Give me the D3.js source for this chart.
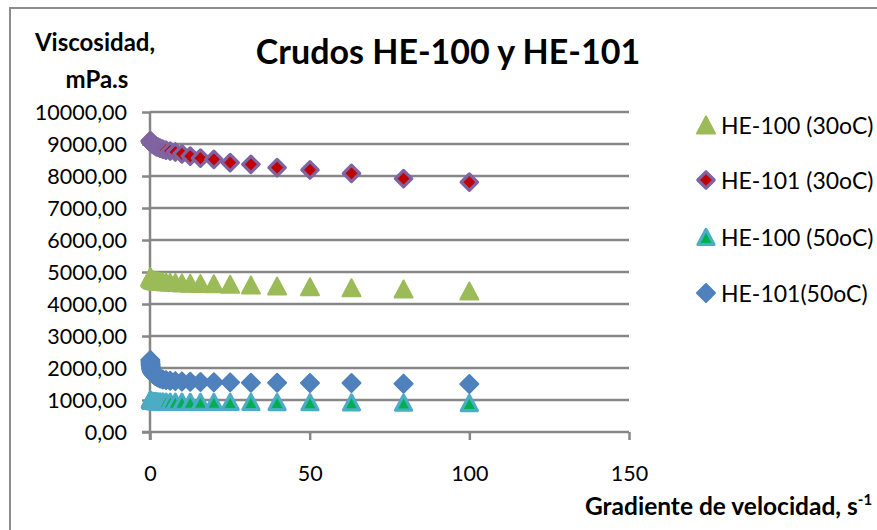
<!DOCTYPE html>
<html>
<head>
<meta charset="utf-8">
<script src="https://cdn.jsdelivr.net/npm/d3@7"></script>
<style>
  html, body { margin: 0; padding: 0; background: #ffffff; }
  svg { display: block; }
  text { font-family: Lato, "Noto Sans", sans-serif; fill: #000; }
</style>
</head>
<body>
<svg id="chart" width="877" height="530"></svg>
<script>
// Shear rate (s^-1), logarithmic sweep
const gradiente = [0.10, 0.13, 0.16, 0.20, 0.25, 0.32, 0.40, 0.50, 0.63, 0.79,
  1.00, 1.26, 1.58, 2.00, 2.51, 3.16, 3.98, 5.01, 6.31, 7.94,
  10.0, 12.6, 15.8, 20.0, 25.1, 31.6, 39.8, 50.1, 63.1, 79.4, 100];

// Viscosity (mPa.s) per crude and temperature
const he100_30 = [4850, 4840, 4830, 4820, 4810, 4800, 4790, 4780, 4770, 4760,
  4750, 4740, 4730, 4720, 4715, 4710, 4700, 4690, 4680, 4670,
  4660, 4650, 4640, 4630, 4615, 4594, 4562, 4540, 4510, 4469, 4406];
const he101_30 = [9100, 9090, 9080, 9070, 9060, 9050, 9040, 9030, 9020, 9000,
  8990, 8970, 8950, 8920, 8900, 8870, 8840, 8810, 8780, 8750,
  8690, 8620, 8560, 8520, 8420, 8365, 8260, 8190, 8080, 7920, 7810];
const he100_50 = [1010, 1005, 1000, 995, 990, 985, 980, 975, 972, 970,
  968, 965, 962, 960, 958, 955, 952, 950, 948, 946,
  944, 942, 940, 940, 938, 937, 935, 930, 925, 915, 905];
const he101_50 = [2250, 2200, 2150, 2100, 2050, 2000, 1960, 1920, 1880, 1850,
  1820, 1790, 1760, 1730, 1700, 1670, 1640, 1620, 1600, 1590,
  1580, 1570, 1560, 1555, 1550, 1540, 1540, 1530, 1530, 1510, 1500];

const seriesNames = ["HE-100 (30oC)", "HE-101 (30oC)", "HE-100 (50oC)", "HE-101(50oC)"];
const xTicks = [0, 50, 100, 150];
const yTicks = [0, 1000, 2000, 3000, 4000, 5000, 6000, 7000, 8000, 9000, 10000];

const svg = d3.select("#chart");

// Outer chart frame
svg.append("rect")
  .attr("x", 10).attr("y", 8).attr("width", 900).attr("height", 600)
  .attr("fill", "none").attr("stroke", "#8c8c8c").attr("stroke-width", 2);

const plot = { left: 150, right: 629, top: 112, bottom: 432 };
const x = d3.scaleLinear().domain([0, 150]).range([plot.left, plot.right]);
const y = d3.scaleLinear().domain([0, 10000]).range([plot.bottom, plot.top]);

const locale = d3.formatLocale({ decimal: ",", thousands: ".", grouping: [3], currency: ["", ""] });
const fmt = locale.format(".2f");

const gridColor = "#878787";

// Horizontal gridlines
svg.append("g")
  .selectAll("line")
  .data(yTicks.filter(d => d > 0))
  .join("line")
  .attr("x1", plot.left).attr("x2", plot.right)
  .attr("y1", d => y(d)).attr("y2", d => y(d))
  .attr("stroke", gridColor).attr("stroke-width", 2.5);

// Y axis
const yAxis = svg.append("g")
  .attr("transform", `translate(${plot.left},0)`)
  .call(d3.axisLeft(y).tickValues(yTicks).tickFormat(fmt).tickSize(8).tickPadding(15));
yAxis.select(".domain").attr("stroke", gridColor).attr("stroke-width", 2.5)
  .attr("d", `M0,${plot.top}V${plot.bottom + 8}`);
yAxis.selectAll(".tick line").attr("stroke", gridColor).attr("stroke-width", 2.5);
yAxis.selectAll(".tick text")
  .attr("font-size", 21.5).attr("font-family", "Lato").attr("fill", "#000")
  .attr("dy", "0.36em");

// X axis
const xAxis = svg.append("g")
  .attr("transform", `translate(0,${plot.bottom})`)
  .call(d3.axisBottom(x).tickValues(xTicks).tickFormat(d3.format("d")).tickSize(8).tickPadding(26));
xAxis.select(".domain").attr("stroke", gridColor).attr("stroke-width", 2.5)
  .attr("d", `M${plot.left - 8},0H${plot.right}`);
xAxis.selectAll(".tick line").attr("stroke", gridColor).attr("stroke-width", 2.5);
xAxis.selectAll(".tick text")
  .attr("font-size", 21.5).attr("font-family", "Lato").attr("fill", "#000");

// Marker shapes
const tri = (w, h) => `M0,${-h / 2}L${w / 2},${h / 2}L${-w / 2},${h / 2}Z`;
const dia = r => `M0,${-r}L${r},0L0,${r}L${-r},0Z`;

const styles = [
  { vals: he100_30, path: tri(18, 17), fill: "#9BBB59", stroke: "#9BBB59", sw: 2 },
  { vals: he101_30, path: dia(8.2), fill: "#C00000", stroke: "#8064A2", sw: 3.2 },
  { vals: he100_50, path: tri(16, 15), fill: "#00B050", stroke: "#4BACC6", sw: 3.2 },
  { vals: he101_50, path: dia(9), fill: "#4F81BD", stroke: "#4F81BD", sw: 2 }
];

styles.forEach(s => {
  const pts = gradiente.map((g, i) => [g, s.vals[i]]);
  svg.append("g")
    .selectAll("path")
    .data(pts)
    .join("path")
    .attr("d", s.path)
    .attr("transform", d => `translate(${x(d[0])},${y(d[1])})`)
    .attr("fill", s.fill)
    .attr("stroke", s.stroke)
    .attr("stroke-width", s.sw)
    .attr("stroke-linejoin", "round");
});

// Legend
const legendY = [125, 180, 237, 293];
const legend = svg.append("g");
styles.forEach((s, i) => {
  legend.append("path")
    .attr("d", s.path)
    .attr("transform", `translate(706,${legendY[i]})`)
    .attr("fill", s.fill).attr("stroke", s.stroke)
    .attr("stroke-width", s.sw).attr("stroke-linejoin", "round");
  legend.append("text")
    .attr("x", 721).attr("y", legendY[i] + 8.5)
    .attr("font-size", 23)
    .text(seriesNames[i]);
});

// Title
svg.append("text")
  .attr("x", 448).attr("y", 64)
  .attr("text-anchor", "middle")
  .attr("font-size", 34).attr("font-weight", "bold")
  .text("Crudos HE-100 y HE-101");

// Y axis title
svg.append("text")
  .attr("x", 95).attr("y", 51)
  .attr("text-anchor", "middle")
  .attr("font-size", 24).attr("font-weight", "bold")
  .text("Viscosidad,");
svg.append("text")
  .attr("x", 97).attr("y", 88)
  .attr("text-anchor", "middle")
  .attr("font-size", 24).attr("font-weight", "bold")
  .text("mPa.s");

// X axis title with superscript
const xt = svg.append("text")
  .attr("x", 585).attr("y", 515)
  .attr("font-size", 24.5).attr("font-weight", "bold");
xt.append("tspan").text("Gradiente de velocidad, s");
xt.append("tspan").attr("dy", -10).attr("font-size", 15).text("-1");
</script>
</body>
</html>
